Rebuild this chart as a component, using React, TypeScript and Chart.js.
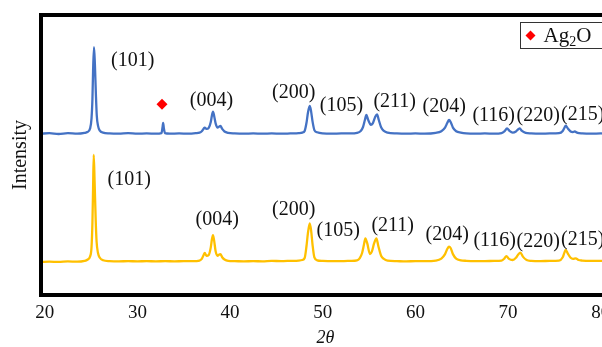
import React, { useEffect, useRef } from 'react';
import { Chart, registerables } from 'chart.js';
Chart.register(...registerables);

const xTicks = [20, 30, 40, 50, 60, 70, 80];

const blueX = [
  19.6, 20.5, 21.5, 22.5, 23.5, 24.3, 24.6, 24.9, 25.05, 25.15,
  25.22, 25.32, 25.42, 25.52, 25.62, 25.75, 25.95, 26.3, 27, 28,
  29, 30, 31, 32, 32.6, 32.72, 32.78, 32.86, 32.98, 33.5,
  34.5, 35.5, 36.3, 36.7, 36.95, 37.15, 37.27, 37.45, 37.7, 37.92,
  38.05, 38.16, 38.28, 38.45, 38.65, 38.8, 38.96, 39.15, 39.4, 39.8,
  40.5, 41.5, 42.5, 43.5, 44.5, 45.5, 46.5, 47.4, 47.8, 48.05,
  48.25, 48.4, 48.6, 48.75, 48.9, 49.1, 49.4, 50, 51, 52,
  53, 53.7, 54.1, 54.35, 54.55, 54.71, 54.9, 55.2, 55.4, 55.65,
  55.86, 56.05, 56.3, 56.6, 57.0, 58, 59, 60, 61, 62.2,
  62.8, 63.2, 63.45, 63.63, 63.8, 64.05, 64.4, 64.9, 65.5, 66.5,
  67.5, 68.5, 69.3, 69.6, 69.89, 70.15, 70.5, 70.85, 71.1, 71.26,
  71.5, 71.9, 72.5, 73.5, 74.5, 75.5, 75.9, 76.1, 76.22, 76.45,
  76.75, 77.0, 77.19, 77.5, 78, 79, 80, 81,
];
const blueY = [
  57.6, 57.8, 57.5, 57.8, 57.6, 57.9, 58.2, 59.5, 63, 70,
  80, 88.5, 82, 72, 64, 60.5, 58.7, 58.0, 57.7, 57.6,
  57.8, 57.6, 57.7, 57.6, 57.8, 60.0, 61.5, 59.5, 57.8, 57.6,
  57.7, 57.6, 57.8, 58.0, 58.5, 59.4, 59.8, 59.3, 59.7, 61.8,
  64.2, 65.5, 64, 61.2, 59.8, 60.1, 60.4, 59.3, 58.4, 57.9,
  57.7, 57.6, 57.7, 57.6, 57.7, 57.6, 57.7, 57.8, 58.0, 58.6,
  61.5, 65, 67.5, 65.5, 62, 58.9, 58.1, 57.7, 57.6, 57.7,
  57.7, 57.9, 58.6, 60.0, 62.5, 64.3, 62.6, 60.8, 61.3, 63.5,
  64.5, 62.5, 59.9, 58.6, 58.0, 57.7, 57.6, 57.7, 57.6, 57.9,
  58.5, 59.8, 61.5, 62.5, 61.8, 59.8, 58.5, 58.0, 57.7, 57.6,
  57.7, 57.6, 57.8, 58.4, 59.5, 58.6, 58.0, 58.4, 59.2, 59.5,
  58.6, 57.9, 57.7, 57.6, 57.7, 57.8, 58.6, 59.8, 60.5, 59.5,
  58.4, 58.2, 58.4, 57.9, 57.7, 57.6, 57.7, 57.6,
];

const yellowX = [
  19.6, 20.5, 21.5, 22.5, 23.5, 24.3, 24.6, 24.9, 25.05, 25.15,
  25.22, 25.29, 25.38, 25.5, 25.6, 25.75, 25.95, 26.3, 27, 28,
  29, 30, 31, 32, 33, 34, 35, 36, 36.7, 36.95,
  37.15, 37.27, 37.45, 37.7, 37.92, 38.05, 38.16, 38.28, 38.45, 38.65,
  38.8, 38.96, 39.15, 39.4, 39.8, 40.5, 41.5, 42.5, 43.5, 44.5,
  45.5, 46.5, 47.4, 47.8, 48.05, 48.25, 48.4, 48.6, 48.75, 48.9,
  49.1, 49.4, 50, 51, 52, 53, 53.7, 54.0, 54.25, 54.45,
  54.6, 54.8, 55.1, 55.3, 55.55, 55.79, 56.0, 56.3, 56.6, 57.0,
  58, 59, 60, 61, 62.2, 62.8, 63.2, 63.45, 63.63, 63.8,
  64.05, 64.4, 64.9, 65.5, 66.5, 67.5, 68.5, 69.3, 69.6, 69.82,
  70.1, 70.5, 70.85, 71.1, 71.33, 71.6, 72.0, 72.5, 73.5, 74.5,
  75.5, 75.9, 76.1, 76.22, 76.45, 76.75, 77.0, 77.3, 77.6, 78,
  79, 80, 81,
];
const yellowY = [
  11.8, 11.9, 11.8, 12.0, 11.9, 12.2, 12.6, 13.8, 17, 26,
  38, 50, 41, 27, 19, 15, 13.3, 12.4, 12.1, 12.0,
  12.1, 12.0, 12.1, 12.0, 12.1, 12.0, 12.1, 12.1, 12.3, 12.9,
  14.3, 15.0, 14.0, 14.3, 17, 20, 21.4, 19.5, 15.5, 14.0,
  14.4, 14.6, 13.5, 12.7, 12.2, 12.1, 12.0, 12.1, 12.0, 12.2,
  12.1, 12.2, 12.3, 12.5, 13.2, 17.5, 22, 25.6, 23, 18,
  13.4, 12.4, 12.2, 12.1, 12.1, 12.2, 12.4, 13.2, 15, 18,
  20.25, 18.5, 14.6, 15.5, 18.5, 20.25, 17.5, 14, 12.9, 12.3,
  12.1, 12.0, 12.1, 12.1, 12.3, 13.0, 14.6, 16.5, 17.25, 16.8,
  14.6, 13.0, 12.4, 12.2, 12.1, 12.1, 12.2, 12.3, 13.0, 13.9,
  12.9, 12.5, 13.3, 14.5, 15.1, 13.7, 12.5, 12.2, 12.1, 12.2,
  12.3, 13.5, 15.3, 16.1, 14.8, 13.3, 12.9, 13.1, 12.5, 12.3,
  12.2, 12.2, 12.2,
];

const ag2oX = [32.66];
const ag2oY = [68.1];

const hklLabels = ['(101)', '(004)', '(200)', '(105)', '(211)', '(204)', '(116)', '(220)', '(215)'];
const blueLabelX = [29.5, 37.99, 46.87, 52.02, 57.77, 63.11, 68.45, 73.25, 78.06];
const blueLabelY = [83.75, 69.3, 72.3, 67.7, 68.9, 67.3, 63.9, 63.9, 64.5];
const yellowLabelX = [29.12, 38.61, 46.87, 51.67, 57.55, 63.43, 68.56, 73.25, 78.06];
const yellowLabelY = [41.1, 26.8, 30.5, 23.0, 24.8, 21.4, 19.5, 19.1, 19.8];

const BLUE = '#4472C4';
const YELLOW = '#FFC000';
const RED = '#FF0000';
const FONT = '"Liberation Serif", "Times New Roman", serif';

const drawDiamond = (ctx: CanvasRenderingContext2D, cx: number, cy: number, r: number) => {
  ctx.beginPath();
  ctx.moveTo(cx, cy - r);
  ctx.lineTo(cx + r, cy);
  ctx.lineTo(cx, cy + r);
  ctx.lineTo(cx - r, cy);
  ctx.closePath();
  ctx.fill();
};

const overlayPlugin = {
  id: 'overlay',
  afterDatasetsDraw(chart: any) {
    const { ctx, chartArea, scales } = chart;
    const { left, top, right, bottom } = chartArea;
    const xs = scales.x;
    const ys = scales.y;
    ctx.save();
    ctx.fillStyle = '#111';
    ctx.font = `20px ${FONT}`;
    ctx.textAlign = 'center';
    ctx.textBaseline = 'middle';
    hklLabels.forEach((t, i) => {
      ctx.fillText(t, xs.getPixelForValue(blueLabelX[i]), ys.getPixelForValue(blueLabelY[i]));
      ctx.fillText(t, xs.getPixelForValue(yellowLabelX[i]), ys.getPixelForValue(yellowLabelY[i]));
    });
    // frame
    ctx.strokeStyle = '#000';
    ctx.lineWidth = 4;
    ctx.strokeRect(left, top, right - left, bottom - top);
    // legend
    const bx = right - 89.5;
    const by = top + 7.5;
    const bw = 82;
    const bh = 26;
    ctx.fillStyle = '#fff';
    ctx.fillRect(bx, by, bw, bh);
    ctx.strokeStyle = '#333';
    ctx.lineWidth = 1;
    ctx.strokeRect(bx, by, bw, bh);
    ctx.fillStyle = RED;
    drawDiamond(ctx, bx + 10, by + 13, 5);
    ctx.fillStyle = '#111';
    ctx.textAlign = 'left';
    ctx.textBaseline = 'alphabetic';
    let tx = bx + 23;
    const base = by + 19;
    ctx.font = `21px ${FONT}`;
    ctx.fillText('Ag', tx, base);
    tx += ctx.measureText('Ag').width;
    ctx.font = `14px ${FONT}`;
    ctx.fillText('2', tx, base + 4);
    tx += ctx.measureText('2').width;
    ctx.font = `21px ${FONT}`;
    ctx.fillText('O', tx, base);
    ctx.restore();
  },
};

export default function App() {
  const ref = useRef<HTMLCanvasElement>(null);
  useEffect(() => {
    if (!ref.current) return;
    const chart = new Chart(ref.current, {
      type: 'line',
      data: {
        datasets: [
          {
            label: 'blue',
            data: blueX.map((x, i) => ({ x, y: blueY[i] })),
            borderColor: BLUE,
            borderWidth: 2.3,
            pointRadius: 0,
            cubicInterpolationMode: 'monotone',
          },
          {
            label: 'yellow',
            data: yellowX.map((x, i) => ({ x, y: yellowY[i] })),
            borderColor: YELLOW,
            borderWidth: 2.3,
            pointRadius: 0,
            cubicInterpolationMode: 'monotone',
          },
          {
            type: 'scatter',
            label: 'Ag2O',
            data: ag2oX.map((x, i) => ({ x, y: ag2oY[i] })),
            pointStyle: 'rectRot',
            pointRadius: 5.5,
            backgroundColor: RED,
            borderColor: RED,
            borderWidth: 0,
            showLine: false,
          } as any,
        ],
      },
      options: {
        animation: false,
        responsive: false,
        layout: { padding: { top: 15, right: 14, left: 0, bottom: 0 } },
        plugins: { legend: { display: false }, tooltip: { enabled: false } },
        scales: {
          x: {
            type: 'linear',
            min: 19.6,
            max: 81,
            afterBuildTicks: (scale: any) => {
              scale.ticks = xTicks.map((v) => ({ value: v }));
            },
            afterFit: (scale: any) => {
              scale.height = 52;
            },
            grid: { display: false, drawTicks: false, tickLength: 0 },
            border: { display: false },
            ticks: {
              font: { family: FONT, size: 19 },
              color: '#111',
              padding: 7,
              maxRotation: 0,
              autoSkip: false,
            },
            title: {
              display: true,
              text: '2θ',
              font: { family: FONT, size: 18, style: 'italic', lineHeight: 1 },
              color: '#111',
              padding: { top: 0, bottom: 0 },
            },
          },
          y: {
            type: 'linear',
            min: 0,
            max: 100,
            afterFit: (scale: any) => {
              scale.width = 41;
            },
            grid: { display: false, drawTicks: false },
            border: { display: false },
            ticks: { display: false },
            title: {
              display: true,
              text: 'Intensity',
              font: { family: FONT, size: 20 },
              color: '#111',
              padding: { top: 9, bottom: 0 },
            },
          },
        },
      },
      plugins: [overlayPlugin],
    } as any);
    return () => chart.destroy();
  }, []);
  return (
    <div style={{ position: 'fixed', left: 0, top: 0, width: 602, height: 347, overflow: 'hidden', background: '#fff' }}>
      <canvas ref={ref} width={624} height={347} style={{ display: 'block' }} />
    </div>
  );
}
